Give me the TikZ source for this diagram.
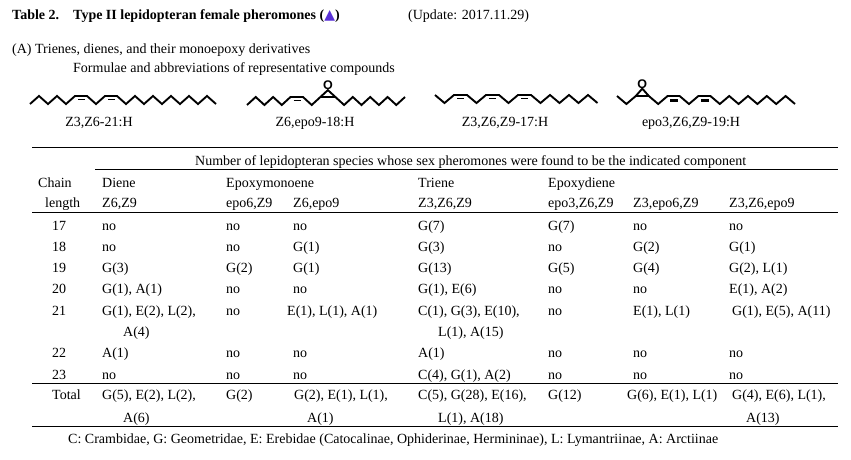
\documentclass[tikz,border=0pt]{standalone}
\usepackage{fontspec}
\setmainfont{Liberation Serif}
\setsansfont{Liberation Sans}
\newfontfamily\symfont{DejaVu Sans}
\definecolor{tripurple}{RGB}{90,50,215}
\begin{document}
\begin{tikzpicture}[x=1pt, y=-1pt,
    font=\fontsize{14}{16}\selectfont,
    cell/.style={anchor=base west, inner sep=0pt},
    lab/.style={anchor=base, inner sep=0pt},
    chain/.style={line width=1.9pt},
    thickbar/.style={line width=3pt},
    rule/.style={line width=1pt},
    oxy/.style={inner sep=0pt, font=\fontsize{12.5}{12.5}\selectfont\sffamily\bfseries}]
    \useasboundingbox (0,0) rectangle (851,460);

    % headings
    \node[cell, font=\fontsize{14}{16}\selectfont\bfseries] (tabno) at (12,20) {Table 2.};
    \node[cell, font=\fontsize{14}{16}\selectfont\bfseries] (title) at (73,20)
        {Type II lepidopteran female pheromones ({\symfont\color{tripurple}▲})};
    \node[cell] (update) at (408,20) {(Update: 2017.11.29)};
    \node[cell] (secA) at (12,54) {(A) Trienes, dienes, and their monoepoxy derivatives};
    \node[cell] (formulae) at (73,73) {Formulae and abbreviations of representative compounds};

    % Z3,Z6-21:H
    \draw[chain] plot coordinates {(30,104) (39,96) (48,104) (57,96) (66,104) (75,96) (87,96)
        (96,104) (105,96) (117,96) (126,104) (135,96) (144,104) (153,96) (162,104) (171,96)
        (180,104) (189,96) (198,104) (207,96) (216,104)};
    \draw[chain] (78,99.5) -- (85,99.5);
    \draw[chain] (108,99.5) -- (115,99.5);
    \node[lab] (lab1) at (99,126) {Z3,Z6-21:H};

    % Z6,epo9-18:H
    \draw[chain] plot coordinates {(247,105) (255.7,97) (264.4,105) (273.1,97) (281.8,105)
        (290.5,97) (303,97) (311.7,105) (320.4,97) (335.4,97) (344.1,105) (352.8,97)
        (361.5,105) (370.2,97) (378.9,105) (387.6,97) (396.3,105) (405,97)};
    \draw[chain] (293.5,100.5) -- (300.5,100.5);
    \node[oxy] (oxy2) at (327.9,85.5) {O};
    \draw[chain] (320.4,97) -- (oxy2.south) -- (335.4,97);
    \node[lab] (lab2) at (315,126) {Z6,epo9-18:H};

    % Z3,Z6,Z9-17:H
    \draw[chain] plot coordinates {(435,95) (444.5,103) (454,95) (467,95) (476.5,103) (486,95)
        (499,95) (508.5,103) (518,95) (531,95) (540.5,103) (550,95) (559.5,103) (569,95)
        (578.5,103) (588,95) (597.5,103)};
    \draw[chain] (457,98.5) -- (464,98.5);
    \draw[chain] (489,98.5) -- (496,98.5);
    \draw[chain] (521,98.5) -- (528,98.5);
    \node[lab] (lab3) at (505,126) {Z3,Z6,Z9-17:H};

    % epo3,Z6,Z9-19:H
    \draw[chain] plot coordinates {(617,96) (626.4,104) (635.8,96) (648.8,96) (658.2,104)
        (667.6,96) (679.6,96) (689,104) (698.4,96) (710.4,96) (719.8,104) (729.2,96)
        (738.6,104) (748,96) (757.4,104) (766.8,96) (776.2,104) (785.6,96) (795,104)};
    \draw[thickbar] (670,100.5) -- (677.5,100.5);
    \draw[thickbar] (701,100.5) -- (708.5,100.5);
    \node[oxy] (oxy4) at (642.3,84) {O};
    \draw[chain] (635.8,96) -- (oxy4.south) -- (648.8,96);
    \node[lab] (lab4) at (691,126) {epo3,Z6,Z9-19:H};

    % table rules
    \draw[rule] (32,147) -- (838,147);
    \draw[rule] (95,169) -- (838,169);
    \draw[rule] (32,212) -- (838,212);
    \draw[rule] (32,383) -- (838,383);
    \draw[rule] (32,426) -- (838,426);

    % table head
    \node[cell] (number) at (195,165)
        {Number of lepidopteran species whose sex pheromones were found to be the indicated component};
    \node[cell] (chain) at (38,187) {Chain};
    \node[cell] (length) at (45,207) {length};
    \node[cell] (diene) at (102,187) {Diene};
    \node[cell] (epomono) at (226,187) {Epoxymonoene};
    \node[cell] (triene) at (418,187) {Triene};
    \node[cell] (epodi) at (548,187) {Epoxydiene};
    \node[cell] (h1) at (102,207) {Z6,Z9};
    \node[cell] (h2) at (226,207) {epo6,Z9};
    \node[cell] (h3) at (293,207) {Z6,epo9};
    \node[cell] (h4) at (418,207) {Z3,Z6,Z9};
    \node[cell] (h5) at (548,207) {epo3,Z6,Z9};
    \node[cell] (h6) at (633,207) {Z3,epo6,Z9};
    \node[cell] (h7) at (729,207) {Z3,Z6,epo9};

    % one-line rows
    \foreach \yy/\len/\ca/\cb/\cc/\cd/\ce/\cf/\cg in {
        230/17/no/no/no/G(7)/G(7)/no/no,
        251/18/no/no/G(1)/G(3)/no/G(2)/G(1),
        272/19/G(3)/G(2)/G(1)/G(13)/G(5)/G(4)/{G(2), L(1)},
        293/20/{G(1), A(1)}/no/no/{G(1), E(6)}/no/no/{E(1), A(2)},
        357/22/A(1)/no/no/A(1)/no/no/no,
        379/23/no/no/no/{C(4), G(1), A(2)}/no/no/no} {
        \node[cell] (r\len) at (52,\yy) {\len};
        \node[cell] (r\len-1) at (102,\yy) {\ca};
        \node[cell] (r\len-2) at (226,\yy) {\cb};
        \node[cell] (r\len-3) at (293,\yy) {\cc};
        \node[cell] (r\len-4) at (418,\yy) {\cd};
        \node[cell] (r\len-5) at (548,\yy) {\ce};
        \node[cell] (r\len-6) at (633,\yy) {\cf};
        \node[cell] (r\len-7) at (729,\yy) {\cg};
    }

    % row 21
    \node[cell] (r21) at (52,315) {21};
    \node[cell] (r21-1) at (102,315) {G(1), E(2), L(2),};
    \node[cell] (r21-1b) at (123,336) {A(4)};
    \node[cell] (r21-2) at (226,315) {no};
    \node[cell] (r21-3) at (287,315) {E(1), L(1), A(1)};
    \node[cell] (r21-4) at (418,315) {C(1), G(3), E(10),};
    \node[cell] (r21-4b) at (438,336) {L(1), A(15)};
    \node[cell] (r21-5) at (548,315) {no};
    \node[cell] (r21-6) at (633,315) {E(1), L(1)};
    \node[cell] (r21-7) at (732,315) {G(1), E(5), A(11)};

    % total
    \node[cell] (tot) at (52,399) {Total};
    \node[cell] (tot-1) at (102,399) {G(5), E(2), L(2),};
    \node[cell] (tot-1b) at (123,422) {A(6)};
    \node[cell] (tot-2) at (226,399) {G(2)};
    \node[cell] (tot-3) at (294,399) {G(2), E(1), L(1),};
    \node[cell] (tot-3b) at (307,422) {A(1)};
    \node[cell] (tot-4) at (418,399) {C(5), G(28), E(16),};
    \node[cell] (tot-4b) at (438,422) {L(1), A(18)};
    \node[cell] (tot-5) at (548,399) {G(12)};
    \node[cell] (tot-6) at (627,399) {G(6), E(1), L(1)};
    \node[cell] (tot-7) at (732,399) {G(4), E(6), L(1),};
    \node[cell] (tot-7b) at (746,422) {A(13)};

    \node[cell] (foot) at (68,443)
        {C: Crambidae, G: Geometridae, E: Erebidae (Catocalinae, Ophiderinae, Hermininae), L: Lymantriinae, A: Arctiinae};
\end{tikzpicture}
\end{document}
